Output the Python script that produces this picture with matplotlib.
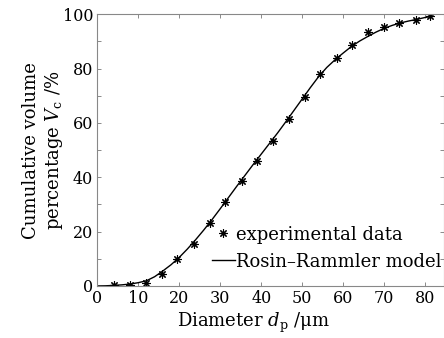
import matplotlib
matplotlib.use("Agg")
import matplotlib.pyplot as plt
from matplotlib.ticker import MultipleLocator

plt.rcParams['font.family'] = 'DejaVu Serif'
plt.rcParams['mathtext.fontset'] = 'dejavuserif'

# experimental points
d_exp = [4.0, 8.0, 11.9, 15.7, 19.5, 23.5, 27.5, 31.2, 35.2, 39.0, 42.9,
         46.8, 50.6, 54.4, 58.4, 62.2, 66.0, 69.9, 73.7, 77.7, 81.3]
v_exp = [0.3, 0.4, 1.2, 4.3, 9.8, 15.4, 23.3, 30.9, 38.6, 46.0, 53.4,
         61.6, 69.4, 78.1, 83.7, 88.5, 93.3, 95.3, 96.6, 97.8, 99.4]

# Rosin-Rammler model curve
d_mod = [0, 2, 4, 6, 8, 10, 12, 14, 16, 18, 20, 22, 24, 26, 28, 30, 32, 34,
         36, 38, 40, 42, 44, 46, 48, 50, 52, 54, 56, 58, 60, 62, 64, 66, 68,
         70, 72, 74, 76, 78, 80, 82]
v_mod = [0, 0.05, 0.2, 0.4, 0.7, 1.2, 1.9, 3.4, 5.5, 7.8, 10.5, 13.6, 17.0,
         20.6, 24.4, 28.4, 32.5, 36.6, 40.6, 44.6, 48.5, 52.4, 56.3, 60.4,
         64.6, 68.8, 73.0, 77.0, 80.4, 83.2, 85.7, 88.1, 90.1, 91.8, 93.4,
         94.8, 95.9, 96.8, 97.5, 98.1, 98.8, 99.3]

fig = plt.figure(figsize=(4.44, 3.38), dpi=100)
ax = fig.add_axes([0.219, 0.154, 0.781, 0.804])

ax.plot(d_exp, v_exp, ls='none', marker=(8, 2, 0), ms=6, mew=0.8,
        color='black', label='experimental data')
ax.plot(d_mod, v_mod, color='black', lw=1.0, label='Rosin\u2013Rammler model')

ax.set_xlim(0, 84.6)
ax.set_ylim(0, 100)
ax.xaxis.set_major_locator(MultipleLocator(10))
ax.yaxis.set_major_locator(MultipleLocator(20))
ax.yaxis.set_minor_locator(MultipleLocator(10))
ax.tick_params(which='both', direction='in', top=True, right=True,
               length=3, width=0.6, color='#777777', labelsize=11.5, pad=3)
for s in ax.spines.values():
    s.set_color('#888888')
    s.set_linewidth(0.8)

ax.set_xlabel('Diameter $d_{\\rm p}$ /\u03bcm', fontsize=13)
ax.xaxis.set_label_coords(0.452, -0.09)
ax.set_ylabel('Cumulative volume\npercentage $V_{\\rm c}$ /%', fontsize=13,
              linespacing=1.2)
ax.yaxis.set_label_coords(-0.093, 0.5)

ax.legend(loc='lower right', bbox_to_anchor=(1.037, 0.0), frameon=False,
          fontsize=13, handlelength=1.3, handletextpad=0.05,
          labelspacing=0.5, borderaxespad=0.6, borderpad=0.25)

fig.savefig('out.png', dpi=100)
